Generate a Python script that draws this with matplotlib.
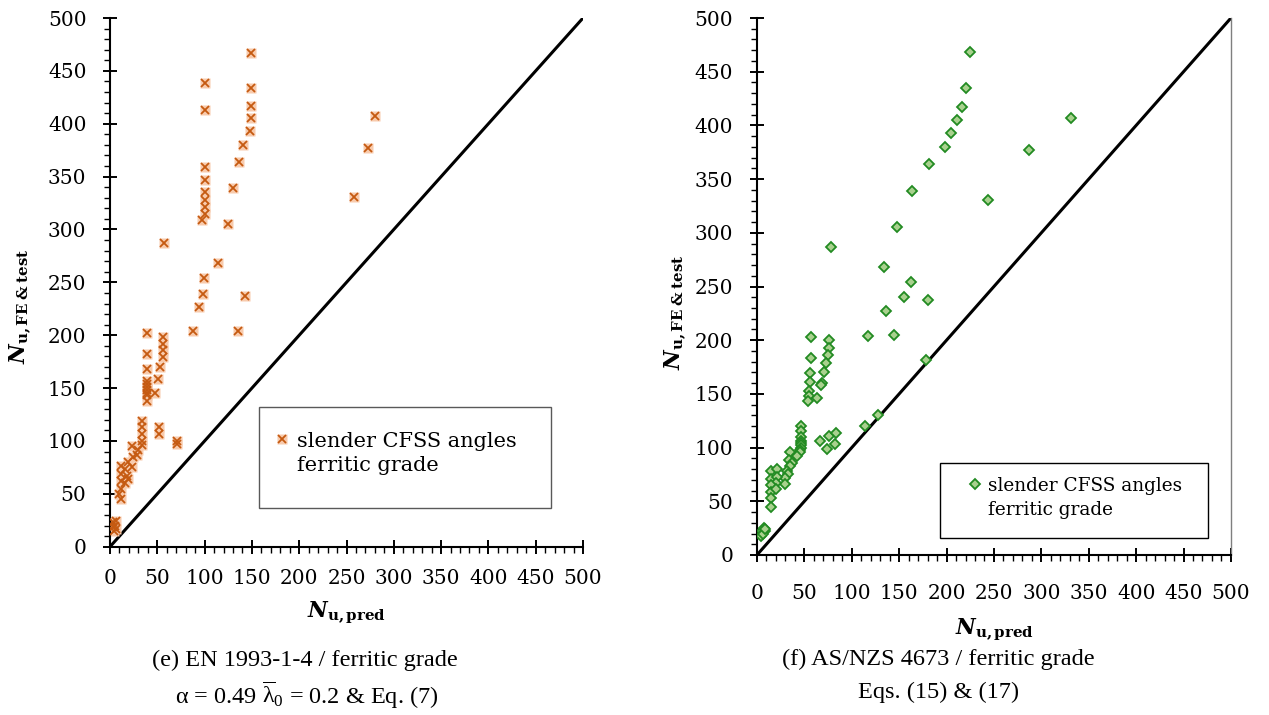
import numpy as np
from matplotlib import pyplot as plt
from matplotlib.lines import Line2D
from matplotlib.patches import Rectangle

plt.rcParams['font.family'] = ['DejaVu Serif']
plt.rcParams['mathtext.fontset'] = 'custom'
plt.rcParams['mathtext.rm'] = 'Liberation Serif'
plt.rcParams['mathtext.it'] = 'Liberation Serif:italic'
plt.rcParams['mathtext.bf'] = 'DejaVu Serif:bold'
plt.rcParams['mathtext.bfit'] = 'DejaVu Serif:bold:italic'

# (e) EN 1993-1-4, ferritic grade
en_pred = [149.5, 100.6, 149.5, 149, 100.6, 149, 148, 141, 136, 100.6, 100.6, 130, 100.6, 100.6,
           100.6, 100.6, 97, 125, 57, 114, 99, 98, 143, 94, 135, 88, 39, 280, 273, 258,
           56, 56, 56, 56, 53, 51, 47.5,
           39, 39, 39, 39, 39, 39, 39, 39, 39,
           52, 52, 71, 71,
           34, 34, 34, 34, 34,
           23.5, 30, 28, 24.5, 19.5, 23, 11.5, 16, 11.5, 17.5, 11.5, 16, 19, 11.5, 11.5, 9,
           5, 3.5, 6.5, 4, 6, 3]
en_test = [467, 439, 434, 417, 413, 405, 393, 380, 364, 359, 347, 339, 335, 328,
           321, 315, 309, 305, 287, 268, 254, 239, 237, 227, 204, 204, 202, 407, 377, 331,
           198, 192, 186, 179, 170, 159, 145.5,
           182.5, 168, 157, 154, 151, 148, 145, 143, 138,
           113, 107, 100, 97,
           119, 113, 107, 100, 96,
           95.5, 91, 87, 84.5, 80, 75, 76.5, 73.5, 69, 67, 62.5, 60.5, 64, 54.5, 45, 50,
           20, 23, 17, 15, 24, 19]

# (f) AS/NZS 4673, ferritic grade
as_pred = [225, 221, 216, 211, 205, 198, 181, 164, 148, 134, 163, 155, 180, 331, 287, 244,
           78, 136, 117, 145, 57, 76, 75.5, 74.5, 57, 73, 71, 56, 56, 69, 67.5, 55, 54.5, 63, 54,
           178, 128, 114,
           67, 76, 83, 74, 82,
           46.5, 46, 46, 46, 46, 46, 46, 45.5, 45,
           35, 42.5, 33.5, 37, 34.5, 31.5, 33, 29.5, 29.5,
           15, 21, 15, 21.5, 20.5, 15, 15, 20.5, 15, 15,
           5, 7, 4, 8.5, 6, 8]
as_test = [468, 435, 417, 405, 393, 380, 364, 339, 305, 268, 254, 240, 237, 407, 377, 331,
           287, 227, 204, 205, 203, 200, 193, 186, 183, 179, 170, 169, 161, 160, 158, 153, 148, 146, 143,
           182, 130, 120,
           106, 111, 114, 99, 103,
           120, 115, 110, 106, 104, 102, 100, 98, 96,
           96, 92, 88, 86, 82.5, 78, 75, 72, 66,
           78, 80, 71, 73, 67, 65, 59, 61, 53, 45,
           22.5, 25, 17.5, 22, 20, 24]

ticks = np.arange(0, 501, 50)
legend_lines = ['slender CFSS angles', 'ferritic grade']

fig = plt.figure(figsize=(12.69, 7.15), dpi=100)
ax1 = fig.add_axes([0.0867, 0.2354, 0.3727, 0.7394])
ax2 = fig.add_axes([0.5965, 0.2238, 0.3735, 0.751])

for ax in [ax1, ax2]:
    ax.plot([0, 500], [0, 500], color='black', lw=2.2, zorder=1)
    ax.set_xlim(0, 500)
    ax.set_ylim(0, 500)
    ax.set_xticks(ticks)
    ax.set_yticks(ticks)
    ax.set_xticks(np.arange(0, 501, 10), minor=True)
    ax.set_yticks(np.arange(0, 501, 10), minor=True)
    ax.tick_params(which='major', direction='inout', length=10, width=1.4, labelsize=14.5)
    ax.tick_params(which='minor', direction='out', length=4.5, width=1.0)
    ax.tick_params(axis='y', which='major', pad=12)
    ax.spines['top'].set_visible(False)
    ax.spines['left'].set_linewidth(1.5)
    ax.spines['bottom'].set_linewidth(1.5)
    ax.set_xlabel(r'$\mathbfit{N}_{\mathbf{u,pred}}$', fontsize=15.5)
    ax.set_ylabel(r'$\mathbfit{N}_{\mathbf{u,FE\ &\ test}}$', fontsize=15.5)

ax1.tick_params(axis='x', which='major', pad=11)
ax2.tick_params(axis='x', which='major', pad=16)
ax1.spines['right'].set_visible(False)
ax2.spines['right'].set_color('#7f7f7f')
ax2.spines['right'].set_linewidth(1.0)

ax1.plot(en_pred, en_test, ls='none', marker='s', ms=7.7, mfc='#F8CBAD', mec='none', zorder=2)
ax1.plot(en_pred, en_test, ls='none', marker='x', ms=6.2, mew=1.3, color='#C55A11', zorder=3)
ax2.plot(as_pred, as_test, ls='none', marker='D', ms=5.5, mfc='#A9D18E', mec='#228B22', mew=1.3, zorder=3)

ax1.xaxis.set_label_coords(0.5, -0.1)
ax2.xaxis.set_label_coords(0.5, -0.115)
ax1.yaxis.set_label_coords(-0.163, 0.454)
ax2.yaxis.set_label_coords(-0.146, 0.452)

# legend boxes
ax1.add_patch(Rectangle((0.315, 0.0737), 0.617, 0.191, transform=ax1.transAxes,
                        facecolor='white', edgecolor='#595959', lw=1.0, zorder=4))
ax2.add_patch(Rectangle((0.386, 0.0317), 0.565, 0.1393, transform=ax2.transAxes,
                        facecolor='white', edgecolor='black', lw=1.0, zorder=4))

h_sq = Line2D([], [], ls='none', marker='s', ms=7.7, mfc='#F8CBAD', mec='none')
h_x = Line2D([], [], ls='none', marker='x', ms=6.2, mew=1.3, color='#C55A11')
h_d = Line2D([], [], ls='none', marker='D', ms=5.5, mfc='#A9D18E', mec='#228B22', mew=1.3)
h_none = Line2D([], [], ls='none')

leg1 = ax1.legend([(h_sq, h_x), h_none], legend_lines, loc='upper left', bbox_to_anchor=(0.3416, 0.2174),
                  fontsize=15, handlelength=1.0, handletextpad=0.2, borderpad=0, borderaxespad=0,
                  labelspacing=0.23, frameon=False)
leg1.set_zorder(5)
leg2 = ax2.legend([h_d, h_none], legend_lines, loc='upper left', bbox_to_anchor=(0.4405, 0.1453),
                  fontsize=13.3, handlelength=1.0, handletextpad=0.2, borderpad=0, borderaxespad=0,
                  labelspacing=0.35, frameon=False)
leg2.set_zorder(5)

fig.text(305 / 1269, 1 - 660 / 715, '(e) EN 1993-1-4 / ferritic grade', ha='center', va='center',
         fontsize=17.5, family='Liberation Serif')
fig.text(307 / 1269, 1 - 695 / 715, r'α = 0.49 $\overline{\mathrm{λ}}_0$ = 0.2 & Eq. (7)', ha='center', va='center',
         fontsize=17.5, family='Liberation Serif')
fig.text(938 / 1269, 1 - 659 / 715, '(f) AS/NZS 4673 / ferritic grade', ha='center', va='center',
         fontsize=17.5, family='Liberation Serif')
fig.text(939 / 1269, 1 - 692 / 715, 'Eqs. (15) & (17)', ha='center', va='center',
         fontsize=17.5, family='Liberation Serif')

fig.savefig('out.png', dpi=100)
